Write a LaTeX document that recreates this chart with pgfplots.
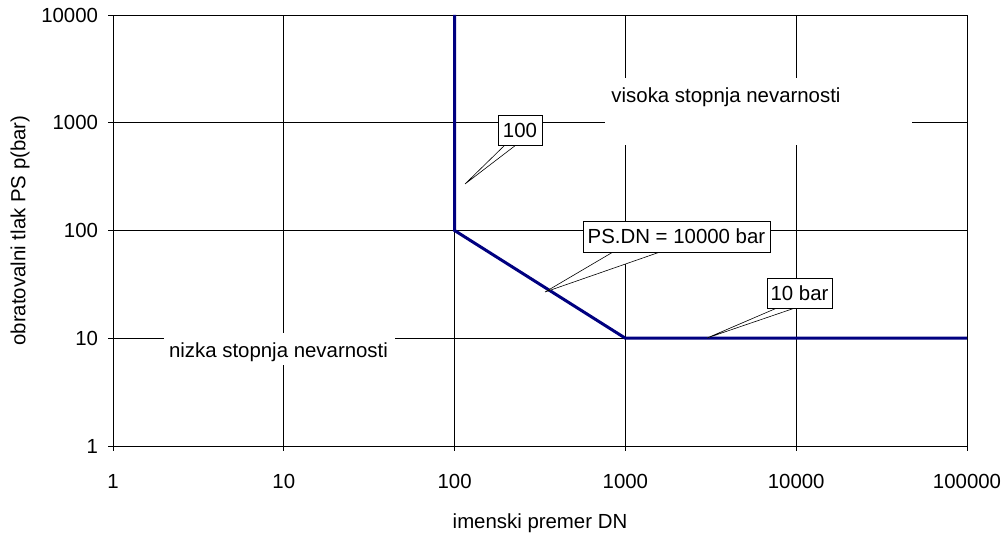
\documentclass[border=0pt]{standalone}
\usepackage{fontspec}
\setmainfont{Liberation Sans}
\usepackage{pgfplots}
\pgfplotsset{compat=1.18}
\definecolor{navyline}{RGB}{0,0,128}
\begin{document}
\fontsize{20.4bp}{24bp}\selectfont
\begin{tikzpicture}
\begin{axis}[
  name=ax,
  scale only axis,
  width=854bp, height=431bp,
  xmode=log, ymode=log,
  xmin=1, xmax=100000, ymin=1, ymax=10000,
  xtick={1,10,100,1000,10000,100000},
  xticklabels={1,10,100,1000,10000,100000},
  ytick={1,10,100,1000,10000},
  yticklabels={1,10,100,1000,10000},
  xminorticks=false, yminorticks=false,
  xtick pos=bottom, ytick pos=left,
  grid=major,
  major grid style={black, line width=0.8bp},
  axis line style={black, line width=0.8bp},
  tick style={black, line width=0.8bp},
  tick align=outside,
  major tick length=5bp,
  /pgf/number format/assume math mode=true,
  tick label style={font=\fontsize{20.4bp}{24bp}\selectfont},
  xticklabel style={anchor=north, yshift=-16bp},
  yticklabel style={anchor=east, xshift=-3bp},
  clip=false,
]
% white backgrounds of region texts
\fill[white] (rel axis cs:0.5761,0.6984) rectangle (rel axis cs:0.9356,0.8538);
\fill[white] (rel axis cs:0.0597,0.1879) rectangle (rel axis cs:0.3302,0.2622);
\node[anchor=center] at (rel axis cs:0.7178,0.8097) {visoka stopnja nevarnosti};
\node[anchor=center] at (rel axis cs:0.1938,0.2181) {nizka stopnja nevarnosti};

\addplot[navyline, line width=3bp, mark=none] coordinates {
  (100,10000) (100,100) (1000,10) (100000,10)
};

% callout 1
\filldraw[fill=white, draw=black, line width=0.6bp]
  (rel axis cs:0.459,0.6984) -- (rel axis cs:0.4122,0.6079) -- (rel axis cs:0.4719,0.6984) -- cycle;
\node[draw=black, fill=white, line width=0.8bp, minimum width=44bp, minimum height=30bp, inner sep=0pt]
  at (rel axis cs:0.4766,0.7332) {100};
% callout 2
\filldraw[fill=white, draw=black, line width=0.6bp]
  (rel axis cs:0.5855,0.4501) -- (rel axis cs:0.5059,0.3573) -- (rel axis cs:0.6405,0.4501) -- cycle;
\node[draw=black, fill=white, line width=0.8bp, minimum width=187bp, minimum height=31bp, inner sep=0pt]
  at (rel axis cs:0.6598,0.4861) {PS.DN = 10000 bar};
% callout 3
\filldraw[fill=white, draw=black, line width=0.6bp]
  (rel axis cs:0.7775,0.3202) -- (rel axis cs:0.6956,0.2506) -- (rel axis cs:0.7986,0.3202) -- cycle;
\node[draw=black, fill=white, line width=0.8bp, minimum width=65bp, minimum height=30bp, inner sep=0pt]
  at (rel axis cs:0.8039,0.3550) {10 bar};
\end{axis}
\node[anchor=center] at (427bp,-77bp) {imenski premer DN};
\node[anchor=center, rotate=90] at (-93bp,215.5bp) {obratovalni tlak PS p(bar)};
\pgfresetboundingbox
\path (-113bp,-89bp) rectangle (891bp,446bp);
\end{tikzpicture}
\end{document}
